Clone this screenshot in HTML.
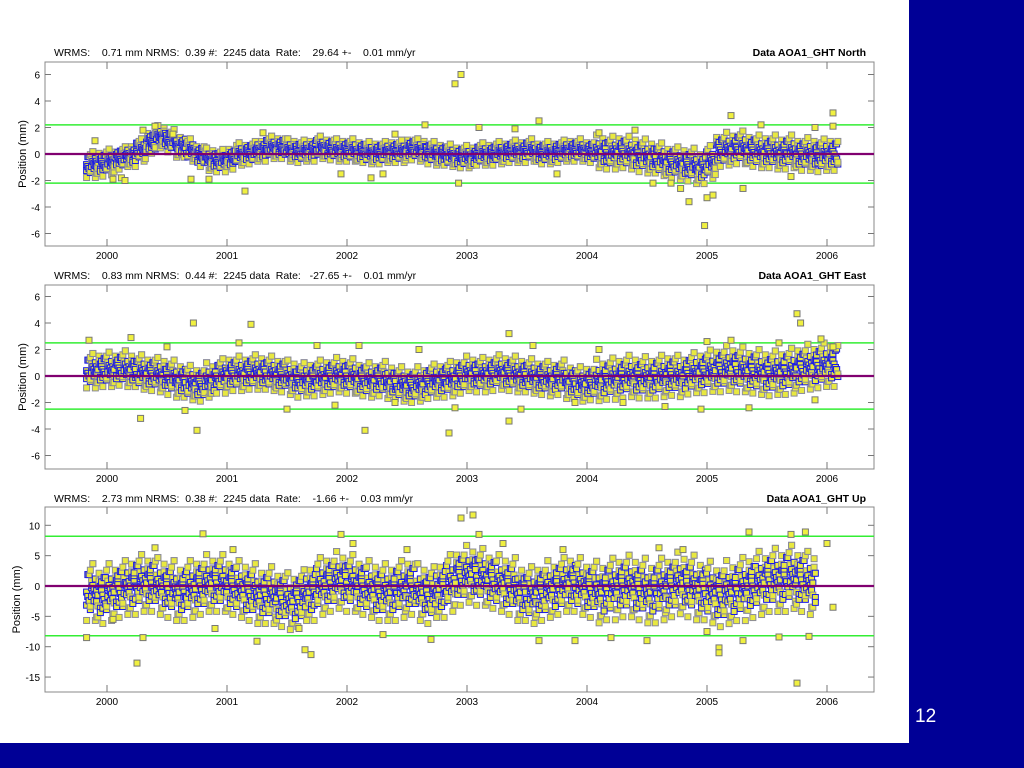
<!DOCTYPE html>
<html><head><meta charset="utf-8">
<style>
html,body{margin:0;padding:0;background:#fff;}
#root{position:relative;width:1024px;height:768px;overflow:hidden;background:#fff;font-family:"Liberation Sans",sans-serif;}
#side{position:absolute;left:909px;top:0;width:115px;height:768px;background:#000096;}
#bottom{position:absolute;left:0;top:743px;width:1024px;height:25px;background:#000096;}
#pagenum{position:absolute;left:915px;top:706px;color:#fff;font-size:19px;}
svg{position:absolute;left:0;top:0;}
</style></head>
<body>
<div id="root">
<div id="side"></div>
<div id="bottom"></div>
<div id="pagenum">12</div>
<svg id="chart" width="1024" height="768"></svg>
</div>
<script>
// ---- data ----
const yearTicks = [2000, 2001, 2002, 2003, 2004, 2005, 2006];
const monthStart = 1999.83;
const northMean = [-0.8,-0.7,-0.6, -0.3,-0.1,0.3, 0.9,1.3,1.0, 0.6,0.3,-0.1, -0.4,-0.5,-0.3, 0.0,0.1,0.3, 0.5,0.5,0.3, 0.2,0.3,0.5, 0.4,0.3,0.3, 0.2,0.1,0.1, 0.2,0.2,0.4, 0.3,0.1,0.0, -0.1,-0.2,-0.2, 0.0,0.0,0.1, 0.2,0.2,0.3, 0.1,0.1,0.2, 0.3,0.3,0.2, 0.2,0.1,0.2, 0.1,-0.1,-0.2, -0.4,-0.6,-0.7, -0.8,-1.0,-0.6, 0.3,0.4,0.5, 0.3,0.2,0.2, 0.1,0.2,0.0, 0.0,-0.1,0.0,0.0];
const eastMean = [0.4,0.5,0.5, 0.6,0.5,0.3, 0.2,0.1,-0.1, -0.3,-0.5,-0.6, -0.3,0.0,0.2, 0.2,0.3,0.3, 0.2,0.1,-0.1, -0.3,-0.2,-0.1, 0.0,0.1,0.0, -0.2,-0.3,-0.2, -0.4,-0.6,-0.7, -0.6,-0.4,-0.3, -0.2,0.0,0.2, 0.1,0.2,0.3, 0.2,0.1,0.0, -0.1,-0.2,-0.1, -0.4,-0.6,-0.5, -0.3,-0.2,-0.1, 0.0,-0.1,-0.1, 0.0,0.1,0.0, 0.2,0.3,0.4, 0.5,0.6,0.5, 0.4,0.3,0.2, 0.3,0.4,0.6, 0.7,0.8,0.9,1.0];
const upMean = [-1,-1.5,-1, -0.5,0,0.5, 0.5,0,-0.5, -1,-0.5,0, 0.5,0.5,0, -0.5,-1,-1.5, -1.5,-2,-2.5, -2,-1,0, 0.5,1,0.5, 0,-0.5,-1, -1,-0.5,0, -1,-1.5,-0.5, 0.5,1.5,2, 1.5,1,0.5, 0,-1,-1.5, -1,-0.5,0, 0.5,0,-0.5, -1,-0.5,0, 0,-0.5,-1, -0.5,0,0.5, 0,-0.5,-1, -1.5,-1,-0.5, 0,0.5,1, 1,1.5,1,0.5];
const northSpread = [0.75,0.65,0.65,0.65,0.65,0.95,0.95];
const eastSpread = [1.0,1.0,1.0,1.0,1.0,1.2,1.3];
const upSpread = [3.6,3.6,3.6,3.6,3.6,3.9,4.0];
const northOutT = [1999.9,2000.05,2000.12,2000.15,2001.15,2002.2,2002.3,2001.95,2000.7,2000.85,2002.65,2002.9,2002.95,2002.93,2003.1,2003.6,2004.7,2004.78,2004.85,2004.98,2005.0,2005.05,2005.2,2005.3,2006.05,2006.05,2005.45,2005.9,2004.55,2004.4,2004.1,2003.4,2001.3,2000.4,2000.3,2002.4,2003.75,2005.7,2000.55];
const northOutV = [1.0,-1.9,-1.8,-2.0,-2.8,-1.8,-1.5,-1.5,-1.9,-1.9,2.2,5.3,6.0,-2.2,2.0,2.5,-2.2,-2.6,-3.6,-5.4,-3.3,-3.1,2.9,-2.6,3.1,2.1,2.2,2.0,-2.2,1.8,1.6,1.9,1.6,2.1,1.8,1.5,-1.5,-1.7,1.5];
const eastOutT = [1999.85,2000.2,2000.28,2000.65,2000.72,2000.75,2001.2,2001.1,2001.5,2001.75,2002.1,2002.15,2002.4,2002.85,2002.9,2003.35,2003.35,2003.45,2003.55,2004.3,2004.65,2004.95,2005.0,2005.2,2005.35,2005.6,2005.75,2005.78,2005.9,2005.95,2006.05,2001.9,2000.5,2002.6,2004.1,2003.9];
const eastOutV = [2.7,2.9,-3.2,-2.6,4.0,-4.1,3.9,2.5,-2.5,2.3,2.3,-4.1,-2.0,-4.3,-2.4,3.2,-3.4,-2.5,2.3,-2.0,-2.3,-2.5,2.6,2.7,-2.4,2.5,4.7,4.0,-1.8,2.8,2.2,-2.2,2.2,2.0,2.0,-2.0];
const upOutT = [1999.83,2000.05,2000.25,2000.3,2000.4,2000.8,2001.05,2001.25,2001.65,2001.7,2001.6,2001.95,2002.05,2002.3,2002.7,2002.95,2003.05,2003.1,2003.3,2003.6,2003.9,2004.2,2004.5,2004.6,2005.0,2005.1,2005.1,2005.3,2005.35,2005.6,2005.7,2005.75,2005.82,2005.85,2006.0,2006.05,2004.8,2000.9,2002.5,2003.8];
const upOutV = [-8.5,-5.5,-12.7,-8.5,6.3,8.6,6,-9.1,-10.5,-11.3,-7,8.5,7,-8,-8.8,11.2,11.7,8.5,7,-9,-9,-8.5,-9,6.3,-7.5,-10.2,-11,-9,8.9,-8.4,8.5,-16,8.9,-8.3,7,-3.5,6,-7,6,6];

const panels = [
 {key:'north', top:62, bottom:246, zeroY:154, ticks:[6,4,2,0,-2,-4,-6], green:2.2, mean:northMean, spread:northSpread, outT:northOutT, outV:northOutV,
  hdr:'WRMS:    0.71 mm NRMS:  0.39 #:  2245 data  Rate:    29.64 +-    0.01 mm/yr', title:'Data AOA1_GHT North', hy:56},
 {key:'east', top:285, bottom:469, zeroY:376, ticks:[6,4,2,0,-2,-4,-6], green:2.5, mean:eastMean, spread:eastSpread, outT:eastOutT, outV:eastOutV,
  hdr:'WRMS:    0.83 mm NRMS:  0.44 #:  2245 data  Rate:   -27.65 +-    0.01 mm/yr', title:'Data AOA1_GHT East', hy:279},
 {key:'up', top:507, bottom:692, zeroY:586, ticks:[10,5,0,-5,-10,-15], green:8.2, mean:upMean, spread:upSpread, outT:upOutT, outV:upOutV,
  hdr:'WRMS:    2.73 mm NRMS:  0.38 #:  2245 data  Rate:    -1.66 +-    0.03 mm/yr', title:'Data AOA1_GHT Up', hy:502}
];
const NS='http://www.w3.org/2000/svg';
const svg=document.getElementById('chart');
const L=45, R=874;
const offTable=[-1.3,-1,-0.8,-0.6,-0.4,-0.2,0,0.2,0.4,0.6,0.8,1,1.3];
function xs(t){return 107+(t-2000)*120;}
function mk(tag,attrs,parent){const e=document.createElementNS(NS,tag);for(const k in attrs)e.setAttribute(k,attrs[k]);(parent||svg).appendChild(e);return e;}

panels.forEach(p=>{
  const pxPer = p.key==='up'?6.07:13.25;
  const ys = v => p.zeroY - v*pxPer;
  const g=mk('g',{});
  
  
  const box=mk('rect',{x:L,y:p.top,width:R-L,height:p.bottom-p.top,fill:'#fff',stroke:'#888','stroke-width':1},g);
  
  
  p.ticks.forEach(v=>{
    const y=ys(v);
    mk('line',{x1:L,x2:L+6,y1:y,y2:y,stroke:'#777'},g);
    mk('line',{x1:R-6,x2:R,y1:y,y2:y,stroke:'#777'},g);
    const t=mk('text',{x:L-5,y:y+4,'text-anchor':'end','font-size':10,fill:'#000'},g);
    t.textContent=v;
    
    
  });
  yearTicks.forEach(yr=>{
    const x=xs(yr);
    mk('line',{x1:x,x2:x,y1:p.top,y2:p.top+7,stroke:'#777'},g);
    mk('line',{x1:x,x2:x,y1:p.bottom-7,y2:p.bottom,stroke:'#777'},g);
    const t=mk('text',{x:x,y:p.bottom+13,'text-anchor':'middle','font-size':10,fill:'#000'},g);
    t.textContent=yr;
    
    
  });
  const yl=mk('text',{x:0,y:0,transform:`translate(${p.key==='up'?20:26},${(p.top+p.bottom)/2}) rotate(-90)`,'text-anchor':'middle','font-size':11,fill:'#000'},g);
  yl.textContent='Position (mm)';
  
  
  const hd=mk('text',{x:54,y:p.hy,'font-size':10.5,fill:'#000'},g);
  hd.setAttribute('style','white-space:pre');
  hd.textContent=p.hdr;
  
  
  const ti=mk('text',{x:866,y:p.hy,'text-anchor':'end','font-size':10.5,'font-weight':'bold',fill:'#000'},g);
  ti.textContent=p.title;
  
  
  [p.green,-p.green].forEach(v=>{
    const ln=mk('line',{x1:L,x2:R,y1:ys(v),y2:ys(v),stroke:'#3e3','stroke-width':1.5},g);
    
    
  });
  const pg=mk('g',{},g);
  
  
  p.mean.forEach((m,i)=>{
    const t0=monthStart+i/12;
    const s=p.spread[Math.max(0,Math.min(6,Math.floor(t0)-1999))];
    for(let j=0;j<8;j++){
      const t=t0+j/96;
      if(t>2006.1) continue;
      const k=i*8+j;
      [offTable[(k*5)%13], offTable[(k*7+3)%13], offTable[(k*11+6)%13]].forEach((o,q)=>{
        const edge=Math.abs(o)>=0.95;
        const r=mk('rect',{x:xs(t)-3,y:ys(m+s*o*(q===2?0.5:1))-3,width:6,height:6,fill:'#e8e840',stroke:edge?'#8a8a99':'#1a1ae6','stroke-width':1},pg);
        
        
      });
    }
  });
  p.outT.forEach((t,i)=>{
    const r=mk('rect',{x:xs(t)-3,y:ys(p.outV[i])-3,width:6,height:6,fill:'#f0f040',stroke:'#777','stroke-width':1},pg);
    
    
  });
  const zl=mk('line',{x1:L,x2:R,y1:ys(0),y2:ys(0),stroke:'#800070','stroke-width':2.2},g);
  
  
});
</script>
</body></html>
